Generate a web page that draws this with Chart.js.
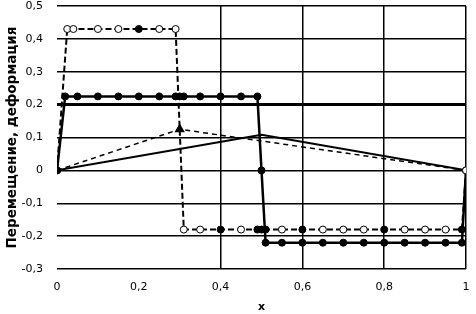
<!DOCTYPE html>
<html>
<head>
<meta charset="utf-8">
<script src="https://cdn.jsdelivr.net/npm/chart.js@4"></script>
<style>
  html, body { margin: 0; padding: 0; background: #fff; }
  #chart { display: block; }
</style>
</head>
<body>
<canvas id="chart" width="476" height="314"></canvas>
<script>
// ========== データ ==========
// 太い実線（黒丸）
const xSolid = [0, 0.02, 0.05, 0.1, 0.15, 0.2, 0.25, 0.29, 0.3, 0.31, 0.35, 0.4, 0.45, 0.49, 0.5, 0.51, 0.55, 0.6, 0.65, 0.7, 0.75, 0.8, 0.85, 0.9, 0.95, 0.99, 1];
const ySolid = [0, 0.225, 0.225, 0.225, 0.225, 0.225, 0.225, 0.225, 0.225, 0.225, 0.225, 0.225, 0.225, 0.225, 0, -0.22, -0.22, -0.22, -0.22, -0.22, -0.22, -0.22, -0.22, -0.22, -0.22, -0.22, 0];

// 太い破線（白丸・一部黒丸）
const xDash = [0, 0.025, 0.04, 0.1, 0.15, 0.2, 0.25, 0.29, 0.31, 0.35, 0.4, 0.45, 0.49, 0.5, 0.51, 0.55, 0.6, 0.65, 0.7, 0.75, 0.8, 0.85, 0.9, 0.95, 0.99, 1];
const yDash = [0, 0.43, 0.43, 0.43, 0.43, 0.43, 0.43, 0.43, -0.18, -0.18, -0.18, -0.18, -0.18, -0.18, -0.18, -0.18, -0.18, -0.18, -0.18, -0.18, -0.18, -0.18, -0.18, -0.18, -0.18, 0];
const dashFilledIdx = [0, 5, 10, 12, 13, 14, 16, 20, 24];

// 細い実線・細い破線（三角形）
const xThinSolid = [0, 0.5, 1];
const yThinSolid = [0, 0.108, 0];
const xThinDash = [0, 0.3, 1];
const yThinDash = [0, 0.125, 0];

// 軸目盛
const xTicks = [0, 0.2, 0.4, 0.6, 0.8, 1];
const yTicks = [-0.3, -0.2, -0.1, 0, 0.1, 0.2, 0.3, 0.4, 0.5];

const toPoints = (xs, ys) => xs.map((x, i) => ({ x: x, y: ys[i] }));
const fmt = v => String(Number(v.toFixed(1))).replace('.', ',');
const near = (a, b) => Math.abs(a - b) < 1e-9;
const noPad = s => { s.paddingTop = 0; s.paddingBottom = 0; s.paddingLeft = 0; s.paddingRight = 0; };

Chart.defaults.font.family = "'DejaVu Sans', sans-serif";
Chart.defaults.font.size = 11;
Chart.defaults.color = '#000';

new Chart(document.getElementById('chart').getContext('2d'), {
  type: 'scatter',
  data: {
    datasets: [
      {
        label: 'dash',
        data: toPoints(xDash, yDash),
        showLine: true,
        borderColor: '#000',
        borderWidth: 2,
        borderDash: [6, 3],
        pointRadius: 3.5,
        pointBorderWidth: 1,
        pointBorderColor: '#000',
        pointBackgroundColor: ctx => dashFilledIdx.includes(ctx.dataIndex) ? '#000' : '#fff',
        order: 1
      },
      {
        label: 'solid',
        data: toPoints(xSolid, ySolid),
        showLine: true,
        borderColor: '#000',
        borderWidth: 2.5,
        pointRadius: 3.5,
        pointBorderWidth: 1,
        pointBorderColor: '#000',
        pointBackgroundColor: '#000',
        order: 2
      },
      {
        label: 'thinDash',
        data: toPoints(xThinDash, yThinDash),
        showLine: true,
        borderColor: '#000',
        borderWidth: 1.5,
        borderDash: [5, 4],
        pointStyle: 'triangle',
        pointRadius: ctx => ctx.dataIndex === 1 ? 4.5 : 0,
        pointBackgroundColor: '#000',
        pointBorderColor: '#000',
        order: 3
      },
      {
        label: 'thinSolid',
        data: toPoints(xThinSolid, yThinSolid),
        showLine: true,
        borderColor: '#000',
        borderWidth: 2,
        pointRadius: 0,
        order: 4
      }
    ]
  },
  options: {
    responsive: false,
    animation: false,
    devicePixelRatio: 1,
    layout: { autoPadding: false, padding: { top: 6, right: 10, left: 0, bottom: 0 } },
    plugins: { legend: { display: false }, tooltip: { enabled: false } },
    scales: {
      x: {
        type: 'linear',
        min: 0,
        max: 1,
        afterBuildTicks: s => { s.ticks = xTicks.map(v => ({ value: v })); },
        afterFit: s => { s.height = 45; noPad(s); },
        border: { display: false },
        grid: {
          drawTicks: false,
          color: ctx => (ctx.tick && (near(ctx.tick.value, 0) || near(ctx.tick.value, 0.2))) ? 'rgba(0,0,0,0)' : '#000',
          lineWidth: 1.5
        },
        ticks: { padding: 12, callback: v => fmt(v) },
        title: {
          display: true,
          text: 'x',
          font: { weight: 'bold', size: 11 },
          padding: 0
        }
      },
      y: {
        type: 'linear',
        min: -0.3,
        max: 0.5,
        afterBuildTicks: s => { s.ticks = yTicks.map(v => ({ value: v })); },
        afterFit: s => { s.width = 57; noPad(s); },
        border: { display: false },
        grid: {
          drawTicks: false,
          color: '#000',
          lineWidth: ctx => (ctx.tick && near(ctx.tick.value, 0.2)) ? 3 : 1.5
        },
        ticks: { padding: 14, callback: v => fmt(v) },
        title: {
          display: true,
          text: 'Перемещение, деформация',
          font: { weight: 'bold', size: 13.5 },
          padding: { top: 4, bottom: 0 }
        }
      }
    }
  }
});
</script>
</body>
</html>
